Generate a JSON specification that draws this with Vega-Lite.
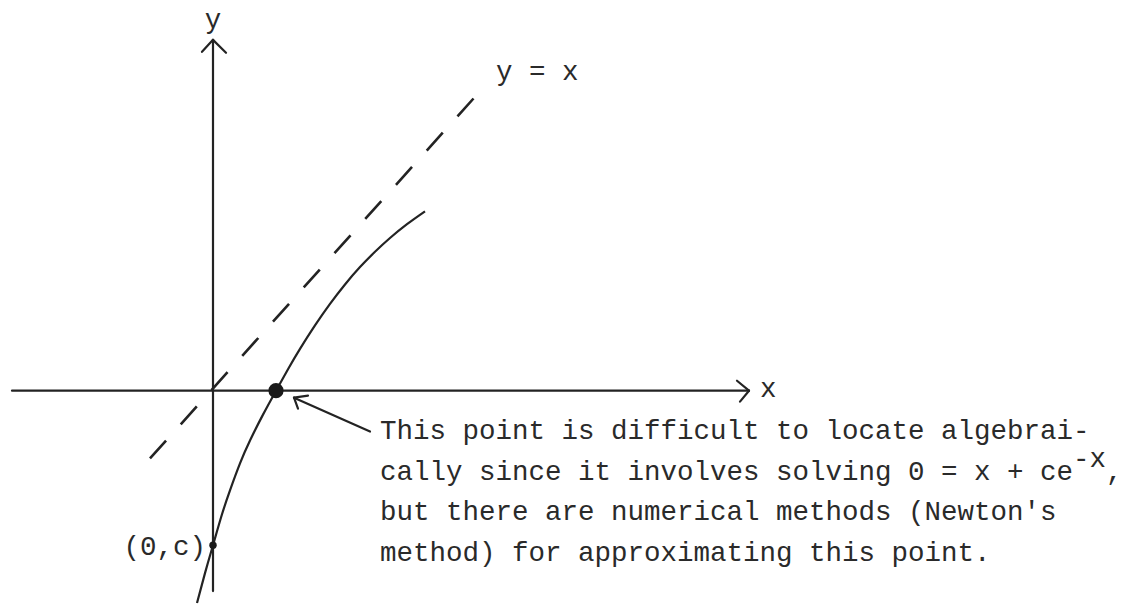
{
  "$schema": "https://vega.github.io/schema/vega-lite/v6.json",
  "width": 1123,
  "height": 608,
  "autosize": {"type": "fit", "contains": "padding"},
  "padding": 0,
  "background": "white",
  "config": {"view": {"stroke": null}},
  "datasets": {
    "strokes": [
      {"part": "x-axis", "x": -2.01, "y": 0, "x2": 5.36, "y2": 0},
      {"part": "x-arrow", "x": 5.36, "y": 0, "x2": 5.24, "y2": 0.10},
      {"part": "x-arrow", "x": 5.36, "y": 0, "x2": 5.27, "y2": -0.11},
      {"part": "y-axis", "x": 0, "y": -2.01, "x2": 0, "y2": 3.52},
      {"part": "y-arrow", "x": 0, "y": 3.52, "x2": -0.11, "y2": 3.40},
      {"part": "y-arrow", "x": 0, "y": 3.52, "x2": 0.13, "y2": 3.39},
      {"part": "pointer", "x": 0.81, "y": -0.07, "x2": 1.57, "y2": -0.41},
      {"part": "pointer", "x": 0.81, "y": -0.07, "x2": 0.95, "y2": -0.05},
      {"part": "pointer", "x": 0.81, "y": -0.07, "x2": 0.85, "y2": -0.18}
    ],
    "curve": [
      {"x": -0.16, "y": -2.13},
      {"x": -0.08, "y": -1.83},
      {"x": 0.0, "y": -1.55},
      {"x": 0.09, "y": -1.24},
      {"x": 0.17, "y": -1.0},
      {"x": 0.27, "y": -0.73},
      {"x": 0.37, "y": -0.5},
      {"x": 0.5, "y": -0.24},
      {"x": 0.63, "y": 0.0},
      {"x": 0.75, "y": 0.216},
      {"x": 0.87, "y": 0.42},
      {"x": 1.02, "y": 0.655},
      {"x": 1.17, "y": 0.871},
      {"x": 1.32, "y": 1.066},
      {"x": 1.47, "y": 1.24},
      {"x": 1.62, "y": 1.394},
      {"x": 1.77, "y": 1.532},
      {"x": 1.94, "y": 1.671},
      {"x": 2.12, "y": 1.8}
    ],
    "identity": [
      {"x": -0.63, "y": -0.68},
      {"x": 2.72, "y": 3.06}
    ],
    "dots": [
      {"kind": "root", "x": 0.63, "y": 0.0},
      {"kind": "intercept", "x": 0.0, "y": -1.55}
    ],
    "labels": [
      {"anchor": "center", "text": "y", "x": 0.0, "y": 3.64},
      {"anchor": "left", "text": "y = x", "x": 2.83, "y": 3.12},
      {"anchor": "left", "text": "x", "x": 5.47, "y": -0.06},
      {"anchor": "right", "text": "(0,c)", "x": -0.07, "y": -1.65},
      {"anchor": "left", "text": "This point is difficult to locate algebrai-", "x": 1.67, "y": -0.48},
      {"anchor": "left", "text": "cally since it involves solving 0 = x + ce", "x": 1.67, "y": -0.9},
      {"anchor": "left", "text": "-x", "x": 8.6, "y": -0.77},
      {"anchor": "left", "text": ",", "x": 8.93, "y": -0.9},
      {"anchor": "left", "text": "but there are numerical methods (Newton's", "x": 1.67, "y": -1.3},
      {"anchor": "left", "text": "method) for approximating this point.", "x": 1.67, "y": -1.71}
    ]
  },
  "encoding": {
    "x": {"field": "x", "type": "quantitative", "scale": {"domain": [-2.13, 9.1], "nice": false, "zero": false}, "axis": null},
    "y": {"field": "y", "type": "quantitative", "scale": {"domain": [-2.16, 3.92], "nice": false, "zero": false}, "axis": null}
  },
  "layer": [
    {
      "data": {"name": "strokes"},
      "mark": {"type": "rule", "color": "#232323", "strokeWidth": 2.2, "strokeCap": "round"},
      "encoding": {
        "x2": {"field": "x2"},
        "y2": {"field": "y2"}
      }
    },
    {
      "data": {"name": "identity"},
      "mark": {"type": "line", "color": "#232323", "strokeWidth": 2.6, "strokeDash": [24, 22]},
      "encoding": {}
    },
    {
      "data": {"name": "curve"},
      "mark": {"type": "line", "color": "#232323", "strokeWidth": 2.2, "interpolate": "natural"},
      "encoding": {}
    },
    {
      "data": {"name": "dots"},
      "transform": [{"filter": "datum.kind === 'root'"}],
      "mark": {"type": "circle", "color": "#1a1a1a", "opacity": 1, "size": 230}
    },
    {
      "data": {"name": "dots"},
      "transform": [{"filter": "datum.kind === 'intercept'"}],
      "mark": {"type": "circle", "color": "#1a1a1a", "opacity": 1, "size": 55}
    },
    {
      "data": {"name": "labels"},
      "transform": [{"filter": "datum.anchor === 'left'"}],
      "mark": {"type": "text", "align": "left", "baseline": "alphabetic", "font": "Liberation Mono", "fontSize": 27.5, "color": "#2a2a2a"},
      "encoding": {"text": {"field": "text"}}
    },
    {
      "data": {"name": "labels"},
      "transform": [{"filter": "datum.anchor === 'center'"}],
      "mark": {"type": "text", "align": "center", "baseline": "alphabetic", "font": "Liberation Mono", "fontSize": 27.5, "color": "#2a2a2a"},
      "encoding": {"text": {"field": "text"}}
    },
    {
      "data": {"name": "labels"},
      "transform": [{"filter": "datum.anchor === 'right'"}],
      "mark": {"type": "text", "align": "right", "baseline": "alphabetic", "font": "Liberation Mono", "fontSize": 27.5, "color": "#2a2a2a"},
      "encoding": {"text": {"field": "text"}}
    }
  ]
}
